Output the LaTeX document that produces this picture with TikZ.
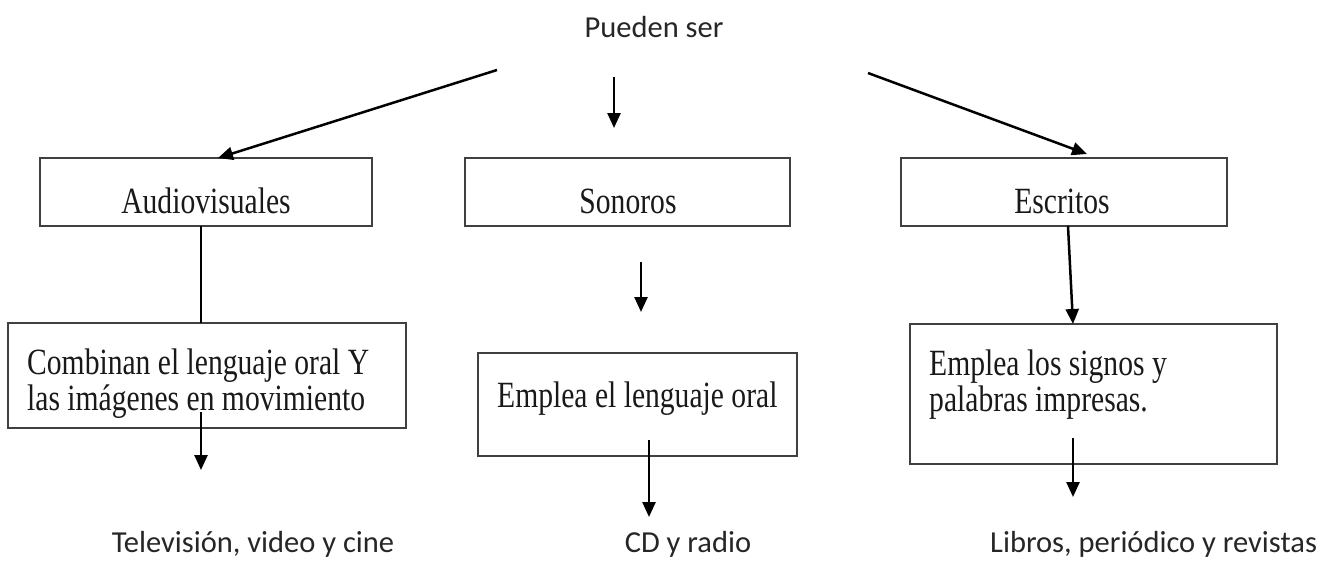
\documentclass[tikz,border=0pt]{standalone}
\usepackage{fontspec}
\setmainfont{Liberation Serif}
\newfontfamily\boxfont[FakeStretch=0.8]{Liberation Serif}
\newfontfamily\labfont{Carlito}
\newcommand\myboxfontsetup{\boxfont\fontsize{37}{36}\selectfont\lineskiplimit-60pt\relax}
\usetikzlibrary{arrows.meta,fit}
\begin{document}
\begin{tikzpicture}[x=1pt,y=-1pt,
  box/.style={draw=black!75, line width=2.6pt, inner sep=0pt},
  bt/.style={font=\myboxfontsetup, inner sep=0pt, align=left, text=black!90},
  lt/.style={font=\labfont\fontsize{30.5}{34}\selectfont, inner sep=0pt, text=black!85},
  arr/.style={line width=2.5pt, -{Triangle[length=15pt,width=13pt]}},
  ln/.style={line width=2.2pt}]
\useasboundingbox (0,0) rectangle (1331,571);
% boxes
\node[box, fit={(40,158) (372,226)}] (aud) {};
\node[box, fit={(465,158) (790,226)}] (son) {};
\node[box, fit={(901,158) (1227,226)}] (esc) {};
\node[box, fit={(8,323) (406,428)}] (comb) {};
\node[box, fit={(478,353) (797,456)}] (oral) {};
\node[box, fit={(910,324) (1277,464)}] (sig) {};
% box texts
\node[bt, anchor=base] (taud) at (206,213) {Audiovisuales};
\node[bt, anchor=base] (tson) at (628,213) {Sonoros};
\node[bt, anchor=base] (tesc) at (1062,213) {Escritos};
\node[bt, anchor=north west] (tcomb) at (27,349) {Combinan el lenguaje oral Y\\las imágenes en movimiento};
\node[bt, anchor=base west] (toral) at (497,407) {Emplea el lenguaje oral};
\node[bt, anchor=north west] (tsig) at (929,350) {Emplea los signos y\\palabras impresas.};
% free labels
\node[lt, anchor=base] (pueden) at (654,37) {Pueden ser};
\node[lt, anchor=base] (tele) at (253,552) {Televisión, video y cine};
\node[lt, anchor=base] (cd) at (688,552) {CD y radio};
\node[lt, anchor=base west] (lib) at (990,552) {Libros, periódico y revistas};
% connector coordinates
\coordinate (a1s) at (497,70);  \coordinate (a1e) at (218,158);
\coordinate (a2s) at (614,77);  \coordinate (a2e) at (614,128);
\coordinate (a3s) at (868,73);  \coordinate (a3e) at (1087,154);
\coordinate (a4s) at (201,226); \coordinate (a4e) at (201,323);
\coordinate (a5s) at (641,262); \coordinate (a5e) at (641,312);
\coordinate (a6s) at (1068,226);\coordinate (a6e) at (1073,324);
\coordinate (a7s) at (201,412); \coordinate (a7e) at (201,470);
\coordinate (a8s) at (649,440); \coordinate (a8e) at (649,517);
\coordinate (a9s) at (1073,438);\coordinate (a9e) at (1073,497);
\draw[arr] (a1s) -- (a1e);
\draw[arr] (a2s) -- (a2e);
\draw[arr] (a3s) -- (a3e);
\draw[ln] (a4s) -- (a4e);
\draw[arr] (a5s) -- (a5e);
\draw[arr] (a6s) -- (a6e);
\draw[arr] (a7s) -- (a7e);
\draw[arr] (a8s) -- (a8e);
\draw[arr] (a9s) -- (a9e);
\end{tikzpicture}
\end{document}
